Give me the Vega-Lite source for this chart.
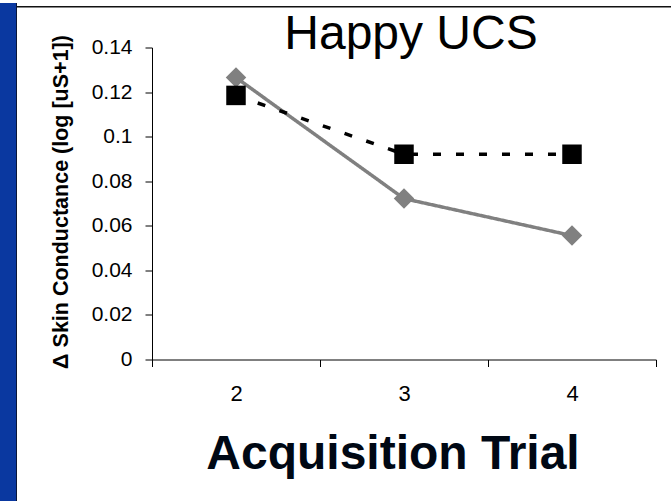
{
  "$schema": "https://vega.github.io/schema/vega-lite/v6.json",
  "background": "white",
  "padding": {"left": 0, "top": 0, "right": 0, "bottom": 0},
  "config": {"view": {"stroke": null}, "font": "Liberation Sans"},
  "bounds": "flush",
  "spacing": 0,
  "hconcat": [
    {
      "width": 16, "height": 501,
      "view": {"fill": "#0a38a0", "stroke": null},
      "data": {"values": [{"k": 1}]},
      "mark": {"type": "point", "opacity": 0},
      "encoding": {}
    },
    {
      "width": 1, "height": 501,
      "view": {"fill": "#0a1638", "stroke": null},
      "data": {"values": [{"k": 1}]},
      "mark": {"type": "point", "opacity": 0},
      "encoding": {}
    },
    {
      "bounds": "flush",
      "spacing": 2,
      "vconcat": [
        {
          "width": 654, "height": 1,
          "view": {"fill": null, "stroke": null},
          "data": {"values": [{"k": 1}]},
          "mark": {"type": "point", "opacity": 0},
          "encoding": {}
        },
        {
          "bounds": "flush",
          "spacing": 39.5,
          "vconcat": [
            {
              "width": 654, "height": 1.5,
              "view": {"fill": "#111111", "stroke": null},
              "data": {"values": [{"k": 1}]},
              "mark": {"type": "point", "opacity": 0},
              "encoding": {}
            },
            {
              "bounds": "flush",
              "spacing": 0,
              "hconcat": [
                {
                  "width": 135, "height": 312,
                  "view": {"fill": null, "stroke": null},
                  "data": {"values": [{"k": 1}]},
                  "mark": {"type": "point", "opacity": 0},
                  "encoding": {}
                },
                {
                  "width": 504, "height": 312,
                  "view": {"stroke": null},
                  "title": {"text": "Happy UCS", "font": "Liberation Sans", "fontSize": 48, "fontWeight": "normal", "color": "#000000", "anchor": "middle", "frame": "group", "baseline": "alphabetic", "offset": -62, "dx": 7},
                  "data": {"values": [
                    {"trial": "2", "series": "Series 1", "value": 0.1265},
                    {"trial": "3", "series": "Series 1", "value": 0.0722},
                    {"trial": "4", "series": "Series 1", "value": 0.0556},
                    {"trial": "2", "series": "Series 2", "value": 0.1185},
                    {"trial": "3", "series": "Series 2", "value": 0.0921},
                    {"trial": "4", "series": "Series 2", "value": 0.0921}
                  ]},
                  "encoding": {
                    "x": {"field": "trial", "type": "ordinal", "scale": {"paddingInner": 0, "paddingOuter": 0},
                      "axis": {"title": "Acquisition Trial", "labelAngle": 0, "tickBand": "extent", "grid": false,
                        "domainColor": "#000000", "domainWidth": 1, "tickColor": "#000000", "tickWidth": 1, "tickSize": 7,
                        "labelFont": "Liberation Sans", "labelFontSize": 22, "labelColor": "#000000", "labelPadding": 17,
                        "titleFont": "Liberation Sans", "titleFontSize": 48, "titleFontWeight": "bold", "titleColor": "#000814",
                        "titleX": 240.5, "titleY": 109, "titleBaseline": "alphabetic", "titleAlign": "center"}},
                    "y": {"field": "value", "type": "quantitative", "scale": {"domain": [0, 0.14], "nice": false, "zero": true},
                      "axis": {"title": "Δ Skin Conductance (log [uS+1])", "values": [0, 0.02, 0.04, 0.06, 0.08, 0.1, 0.12, 0.14], "format": "~g",
                        "grid": false, "labelFlush": false, "labelOverlap": false,
                        "domainColor": "#000000", "domainWidth": 1, "tickColor": "#000000", "tickWidth": 1, "tickSize": 7,
                        "labelFont": "Liberation Sans", "labelFontSize": 21, "labelColor": "#000000", "labelPadding": 13,
                        "titleFont": "Liberation Sans", "titleFontSize": 21.5, "titleFontWeight": "bold", "titleColor": "#000000",
                        "titleAngle": 270, "titleX": -80, "titleY": 154, "titleAlign": "center", "titleBaseline": "bottom"}},
                    "color": {"field": "series", "type": "nominal", "scale": {"domain": ["Series 1", "Series 2"], "range": ["#808080", "#000000"]}, "legend": null}
                  },
                  "layer": [
                    {
                      "mark": {"type": "line", "strokeWidth": 3.5},
                      "encoding": {
                        "strokeDash": {"field": "series", "type": "nominal", "scale": {"domain": ["Series 1", "Series 2"], "range": [[1, 0], [8, 15]]}, "legend": null}
                      }
                    },
                    {
                      "mark": {"type": "point", "filled": true, "opacity": 1, "strokeWidth": 0},
                      "encoding": {
                        "shape": {"field": "series", "type": "nominal", "scale": {"domain": ["Series 1", "Series 2"], "range": ["diamond", "square"]}, "legend": null},
                        "size": {"field": "series", "type": "nominal", "scale": {"domain": ["Series 1", "Series 2"], "range": [420, 380]}, "legend": null}
                      }
                    }
                  ]
                }
              ]
            }
          ]
        }
      ]
    }
  ]
}
